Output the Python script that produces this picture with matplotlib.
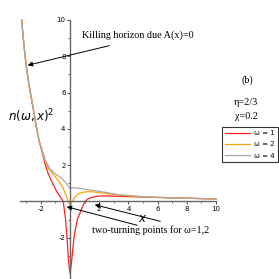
#!/usr/bin/env python3
"""Squared refractive index n(w, x)^2 for three frequencies (panel b)."""
import matplotlib
matplotlib.use("Agg")
import matplotlib.pyplot as plt
from matplotlib.ticker import FixedLocator

# Curves
x_w1 = [-3.31, -3.15, -3.0, -2.8, -2.5, -2.3, -2.1, -1.9, -1.7, -1.5, -1.25, -0.91,
        -0.7, -0.46, -0.3, -0.2, -0.1, 0.0, 0.1, 0.27, 0.5, 0.68, 0.85, 1.03, 1.2,
        1.35, 1.6, 1.9, 2.3, 2.8, 3.5, 4.4, 5.5, 6.5, 8.0, 10.0]
y_w1 = [10.0, 8.6, 7.5, 6.4, 5.05, 4.1, 3.3, 2.7, 2.05, 1.55, 1.1, 0.55,
        0.3, 0.0, -1.0, -2.0, -3.3, -3.95, -3.4, -2.0, -1.0, -0.64, -0.3, 0.0, 0.12,
        0.18, 0.25, 0.29, 0.31, 0.3, 0.28, 0.26, 0.23, 0.21, 0.18, 0.14]

x_w2 = [-3.31, -3.15, -3.0, -2.8, -2.5, -2.3, -2.1, -1.9, -1.7, -1.45, -1.14, -0.8,
        -0.5, -0.25, -0.1, 0.0, 0.1, 0.25, 0.55, 0.8, 1.23, 1.6, 2.1, 2.7, 3.3, 4.0,
        5.0, 6.0, 8.0, 10.0]
y_w2 = [10.0, 8.6, 7.5, 6.4, 5.05, 4.1, 3.3, 2.75, 2.2, 1.8, 1.5, 1.15,
        0.8, 0.3, 0.0, -0.2, -0.08, 0.15, 0.41, 0.5, 0.54, 0.53, 0.48, 0.42, 0.36, 0.31,
        0.26, 0.23, 0.18, 0.14]

x_w4 = [-3.31, -3.15, -3.0, -2.8, -2.5, -2.3, -2.1, -1.9, -1.7, -1.37, -1.0, -0.57,
        -0.25, 0.0, 0.2, 0.5, 1.0, 1.5, 2.15, 3.3, 4.9, 6.0, 8.0, 10.0]
y_w4 = [10.0, 8.6, 7.5, 6.4, 5.05, 4.1, 3.3, 2.8, 2.3, 1.8, 1.52, 1.28,
        1.0, 0.72, 0.76, 0.74, 0.68, 0.62, 0.54, 0.38, 0.27, 0.23, 0.18, 0.14]

labels = ["ω = 1", "ω = 2", "ω = 4"]
colors = ["#ff2020", "#ffa500", "#a8a8a8"]

serif = "Liberation Serif"

fig = plt.figure(figsize=(2.79, 2.79), dpi=100)
ax = fig.add_axes([0, 0, 1, 1])
ax.set_xlim(-4.79, 14.31)
ax.set_ylim(-4.27, 11.1)

for xs, ys, lab, c in zip([x_w1, x_w2, x_w4], [y_w1, y_w2, y_w4], labels, colors):
    ax.plot(xs, ys, color=c, lw=0.9, label=lab)

# axes through the origin
for s in ["top", "right"]:
    ax.spines[s].set_visible(False)
ax.spines["left"].set_position(("data", 0))
ax.spines["bottom"].set_position(("data", 0))
ax.spines["left"].set_bounds(-4.27, 10)
ax.spines["bottom"].set_bounds(-3.4, 10)
for s in ["left", "bottom"]:
    ax.spines[s].set_color("0.4")
    ax.spines[s].set_linewidth(1.0)

ax.xaxis.set_major_locator(FixedLocator([-2, 2, 4, 6, 8, 10]))
ax.xaxis.set_minor_locator(FixedLocator([-3, -1, 1, 3, 5, 7, 9]))
ax.yaxis.set_major_locator(FixedLocator([-2, 2, 4, 6, 8, 10]))
ax.yaxis.set_minor_locator(FixedLocator([-3, -1, 1, 3, 5, 7, 9]))
ax.tick_params(which="major", length=2.2, width=0.6, labelsize=5, pad=1, color="0.2")
ax.tick_params(which="minor", length=1.2, width=0.5, color="0.2")
ax.set_xticklabels(["-2", "2", "4", "6", "8", "10"])
ax.set_yticklabels(["-2", "2", "4", "6", "8", "10"])

# axis labels
ax.text(-2.67, 4.71, r"$n(\omega, x)^2$", fontsize=8.6, ha="center", va="center")
ax.text(5.0, -0.96, r"$x$", fontsize=8.5, ha="center", va="center")

# annotations
arrow = dict(arrowstyle="-|>", lw=0.7, color="black", mutation_scale=7)
ax.annotate("", xy=(-3.08, 7.47), xytext=(2.88, 8.62), arrowprops=arrow)
ax.text(0.82, 9.17, "Killing horizon due A(x)=0", family=serif, fontsize=7.3,
        ha="left", va="center")

ax.annotate("", xy=(-0.41, -0.25), xytext=(4.79, -1.35), arrowprops=arrow)
ax.annotate("", xy=(1.51, -0.14), xytext=(6.37, -1.13), arrowprops=arrow)
ax.text(1.51, -1.6, "two-turning points for ω=1,2", family=serif, fontsize=7.3,
        ha="left", va="center")

ax.text(12.12, 6.69, "(b)", family=serif, fontsize=7.3, ha="center", va="center")
ax.text(12.05, 5.43, "η=2/3", family=serif, fontsize=7.3, ha="center", va="center")
ax.text(12.05, 4.66, "χ=0.2", family=serif, fontsize=7.3, ha="center", va="center")

leg = ax.legend(loc="upper left", bbox_to_anchor=(222 / 279, 1 - 127 / 279),
                bbox_transform=fig.transFigure, fontsize=5, frameon=True,
                fancybox=False, borderaxespad=0, handlelength=3.6,
                handletextpad=0.6, labelspacing=0.75, borderpad=0.45)
leg.get_frame().set_edgecolor("black")
leg.get_frame().set_linewidth(0.8)

plt.savefig("out.png", dpi=100)
